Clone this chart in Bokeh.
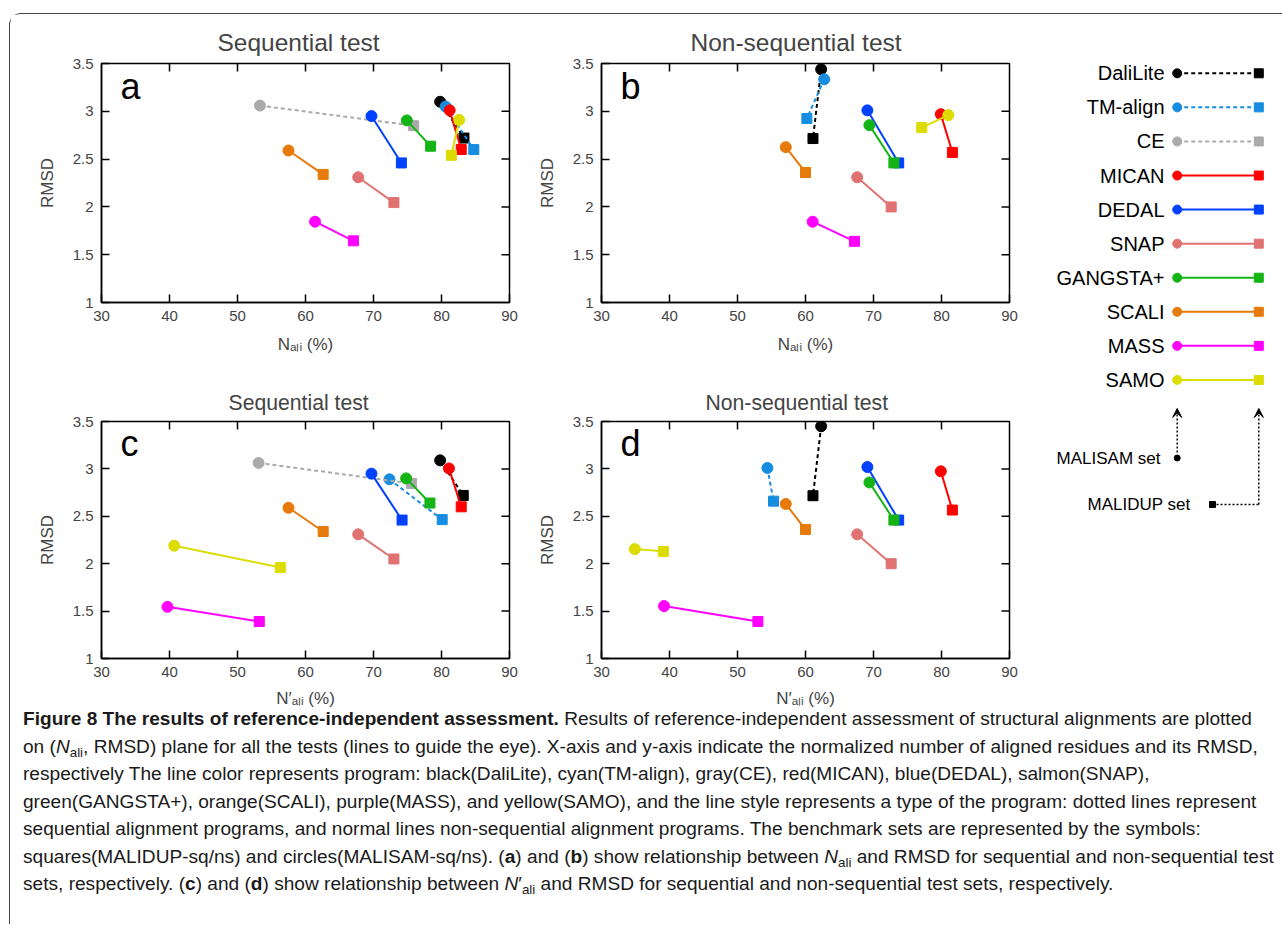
import math
from bokeh.plotting import figure
from bokeh.models import Range1d, FixedTicker, Label, Div, Arrow, VeeHead
from bokeh.layouts import row, column
from bokeh.embed import file_html
from bokeh.resources import INLINE
from bokeh.core.properties import value

# ---------------- data ----------------
programs = ["DaliLite", "TM-align", "CE", "MICAN", "DEDAL", "SNAP", "GANGSTA+", "SCALI", "MASS", "SAMO"]
colors = ["#000000", "#168de0", "#aaaaaa", "#ff0000", "#0040ff", "#e07272", "#14b414", "#e67a0a", "#ff00ff", "#dcdc00"]
sequential = [True, True, True, False, False, False, False, False, False, False]

x_ticks = [30, 40, 50, 60, 70, 80, 90]
y_ticks = [1, 1.5, 2, 2.5, 3, 3.5]
y_tick_labels = ["1", "1.5", "2", "2.5", "3", "3.5"]

# panel a : Sequential test, N_ali  (circle = MALISAM, square = MALIDUP)
a_sam_x = [79.8, 80.6, 53.3, 81.2, 69.7, 67.75, 74.9, 57.5, 61.4, 82.6]
a_sam_y = [3.10, 3.05, 3.06, 3.01, 2.95, 2.31, 2.905, 2.59, 1.845, 2.91]
a_dup_x = [83.3, 84.75, 75.9, 82.9, 74.1, 73.0, 78.4, 62.6, 67.05, 81.45]
a_dup_y = [2.72, 2.60, 2.85, 2.60, 2.46, 2.045, 2.635, 2.34, 1.645, 2.54]

# panel b : Non-sequential test, N_ali
b_sam_x = [62.3, 62.75, None, 79.9, 69.1, 67.6, 69.4, 57.1, 61.05, 81.0]
b_sam_y = [3.44, 3.335, None, 2.97, 3.01, 2.31, 2.855, 2.625, 1.845, 2.96]
b_dup_x = [61.1, 60.2, None, 81.6, 73.7, 72.6, 73.0, 60.0, 67.2, 77.1]
b_dup_y = [2.715, 2.925, None, 2.57, 2.46, 2.0, 2.46, 2.36, 1.64, 2.83]

# panel c : Sequential test, N'_ali
c_sam_x = [79.8, 72.35, 53.1, 81.1, 69.7, 67.75, 74.8, 57.5, 39.7, 40.7]
c_sam_y = [3.09, 2.89, 3.063, 3.005, 2.95, 2.31, 2.90, 2.59, 1.545, 2.19]
c_dup_x = [83.2, 80.1, 75.6, 82.9, 74.2, 73.0, 78.3, 62.6, 53.2, 56.3]
c_dup_y = [2.72, 2.465, 2.846, 2.60, 2.46, 2.05, 2.64, 2.34, 1.39, 1.96]

# panel d : Non-sequential test, N'_ali
d_sam_x = [62.3, 54.4, None, 79.9, 69.1, 67.6, 69.4, 57.1, 39.2, 34.9]
d_sam_y = [3.45, 3.01, None, 2.975, 3.02, 2.31, 2.857, 2.63, 1.553, 2.154]
d_dup_x = [61.1, 55.3, None, 81.6, 73.7, 72.6, 73.0, 60.0, 53.0, 39.1]
d_dup_y = [2.717, 2.66, None, 2.566, 2.46, 2.0, 2.46, 2.36, 1.39, 2.13]

FONT = "Liberation Sans"


def make_panel(title, letter, xlabel, sx, sy, dx, dy, width, height, mbl, mbr, mbt, mbb,
               title_size, title_offset, title_standoff, xlabel_standoff):
    p = figure(width=width, height=height, x_range=Range1d(30, 90), y_range=Range1d(1, 3.5),
               output_backend="svg", toolbar_location=None,
               min_border_left=mbl, min_border_right=mbr, min_border_top=mbt, min_border_bottom=mbb)
    p.grid.visible = False
    p.outline_line_color = "black"
    p.outline_line_width = 1.5
    p.background_fill_color = "white"
    p.border_fill_color = "white"

    p.title.text = title
    p.title.align = "left"
    p.title.offset = title_offset
    p.title.text_font = FONT
    p.title.text_font_size = title_size
    p.title.text_font_style = "normal"
    p.title.standoff = title_standoff

    for ax in p.xaxis:
        ax.ticker = FixedTicker(ticks=x_ticks)
        ax.axis_label = xlabel
        ax.axis_label_standoff = xlabel_standoff
    for ax in p.yaxis:
        ax.ticker = FixedTicker(ticks=y_ticks)
        ax.major_label_overrides = {t: l for t, l in zip(y_ticks, y_tick_labels)}
        ax.axis_label = "RMSD"
        ax.axis_label_standoff = 13
    for ax in p.axis:
        ax.major_tick_in = 8
        ax.major_tick_out = 0
        ax.minor_tick_line_color = None
        ax.axis_line_width = 1.5
        ax.major_tick_line_width = 1.5
        ax.major_label_text_font = FONT
        ax.major_label_text_font_size = "15px"
        ax.major_label_standoff = 8
        ax.axis_label_text_font = FONT
        ax.axis_label_text_font_size = "17px"
        ax.axis_label_text_font_style = "normal"

    # mirrored inward ticks on the top and right frame edges (half of each dash is clipped)
    p.scatter(x_ticks[1:-1], [y_ticks[-1]] * (len(x_ticks) - 2), marker="dash", angle=math.pi / 2,
              size=16, line_color="black", line_width=1.5)
    p.scatter([x_ticks[-1]] * (len(y_ticks) - 2), y_ticks[1:-1], marker="dash",
              size=16, line_color="black", line_width=1.5)

    for i, name in enumerate(programs):
        if sx[i] is None:
            continue
        dash = "4 3" if sequential[i] else "solid"
        p.line([sx[i], dx[i]], [sy[i], dy[i]], line_color=colors[i], line_width=2, line_dash=dash)
        p.scatter([sx[i]], [sy[i]], marker="circle", size=11, fill_color=colors[i], line_color=colors[i])
        p.scatter([dx[i]], [dy[i]], marker="square", size=10, fill_color=colors[i], line_color=colors[i])

    frame_h = height - mbt - mbb
    p.add_layout(Label(x=19, y=frame_h - 23, x_units="screen", y_units="screen", text=letter,
                       text_font=FONT, text_font_size="36px", text_align="left",
                       text_baseline="alphabetic", text_color="black"))
    return p


xl1 = "N\u2090\u2097\u1d62 (%)"
xl2 = "N\u2032\u2090\u2097\u1d62 (%)"

pa = make_panel("Sequential test", "a", xl1, a_sam_x, a_sam_y, a_dup_x, a_dup_y,
                520, 356, 91, 21, 49, 68, "24.5px", 116, 15, 11)
pb = make_panel("Non-sequential test", "b", xl1, b_sam_x, b_sam_y, b_dup_x, b_dup_y,
                510, 356, 71, 31, 49, 68, "24.5px", 89, 15, 11)
pc = make_panel("Sequential test", "c", xl2, c_sam_x, c_sam_y, c_dup_x, c_dup_y,
                520, 340, 91, 21, 51, 51, "21.2px", 127, 16, 9)
pd_ = make_panel("Non-sequential test", "d", xl2, d_sam_x, d_sam_y, d_dup_x, d_dup_y,
                 510, 340, 71, 31, 51, 51, "21.2px", 104, 16, 9)

# ---------------- legend column (page-pixel coordinates) ----------------
lg = figure(width=234, height=696, x_range=Range1d(1040, 1274), y_range=Range1d(710, 14),
            output_backend="svg", toolbar_location=None, min_border=0,
            x_axis_location=None, y_axis_location=None)
lg.grid.visible = False
lg.outline_line_color = None

label_right = 1164
cx, sqx = 1176.7, 1258.3
row0, step = 72.8, 34.07
for i, name in enumerate(programs):
    yy = row0 + i * step
    dash = "4 3" if sequential[i] else "solid"
    lg.line([cx, sqx], [yy, yy], line_color=colors[i], line_width=2, line_dash=dash)
    lg.scatter([cx], [yy], marker="circle", size=9, fill_color=colors[i], line_color=colors[i])
    lg.scatter([sqx], [yy], marker="square", size=9, fill_color=colors[i], line_color=colors[i])
    lg.text([label_right], [yy], text=[name], text_align="right", text_baseline="middle",
            text_font=value(FONT), text_font_size="20px", text_color="black")

# MALISAM / MALIDUP pointers
lg.scatter([cx], [457.5], marker="circle", size=6, fill_color="black", line_color="black")
lg.text([1160], [457.5], text=["MALISAM set"], text_align="right", text_baseline="middle",
        text_font=value(FONT), text_font_size="17px", text_color="black")
lg.add_layout(Arrow(x_start=cx, y_start=452, x_end=cx, y_end=408, line_dash="2 2", line_width=1.5,
                    line_color="black", end=VeeHead(size=9, fill_color="black", line_color="black")))

lg.scatter([1212], [504], marker="square", size=6, fill_color="black", line_color="black")
lg.text([1190], [504], text=["MALIDUP set"], text_align="right", text_baseline="middle",
        text_font=value(FONT), text_font_size="17px", text_color="black")
lg.line([1216, sqx], [504, 504], line_color="black", line_width=1.5, line_dash="2 2")
lg.add_layout(Arrow(x_start=sqx, y_start=504, x_end=sqx, y_end=408, line_dash="2 2", line_width=1.5,
                    line_color="black", end=VeeHead(size=9, fill_color="black", line_color="black")))

# ---------------- caption ----------------
SUB = '<sub style="font-size:70%; line-height:0; vertical-align:-0.3em;">ali</sub>'
cap_lines = [
    "<b>Figure 8 The results of reference-independent assessment.</b> Results of reference-independent assessment of structural alignments are plotted",
    "on (<i>N</i>" + SUB + ", RMSD) plane for all the tests (lines to guide the eye). X-axis and y-axis indicate the normalized number of aligned residues and its RMSD,",
    "respectively The line color represents program: black(DaliLite), cyan(TM-align), gray(CE), red(MICAN), blue(DEDAL), salmon(SNAP),",
    "green(GANGSTA+), orange(SCALI), purple(MASS), and yellow(SAMO), and the line style represents a type of the program: dotted lines represent",
    "sequential alignment programs, and normal lines non-sequential alignment programs. The benchmark sets are represented by the symbols:",
    "squares(MALIDUP-sq/ns) and circles(MALISAM-sq/ns). (<b>a</b>) and (<b>b</b>) show relationship between <i>N</i>" + SUB + " and RMSD for sequential and non-sequential test",
    "sets, respectively. (<b>c</b>) and (<b>d</b>) show relationship between <i>N</i>&prime;" + SUB + " and RMSD for sequential and non-sequential test sets, respectively.",
]
cap_html = ('<div style="font-family: \'Liberation Sans\', Arial, sans-serif; '
            'font-size: 19.1px; line-height: 27.5px; white-space: nowrap; color: #1a1a1a; '
            'padding-left: 8px; margin: 0; position: relative; top: -10px;">' + "<br>".join(cap_lines) + "</div>")
cap = Div(text=cap_html, width=1262, height=204)

layout = column(
    row(column(row(pa, pb), row(pc, pd_)), lg),
    cap,
    margin=(13, 0, 0, 9),
    styles={"border-top": "1px solid #444", "border-left": "1px solid #444",
            "border-top-left-radius": "12px", "background": "white"},
)

open("out.html", "w").write(file_html(layout, INLINE))
